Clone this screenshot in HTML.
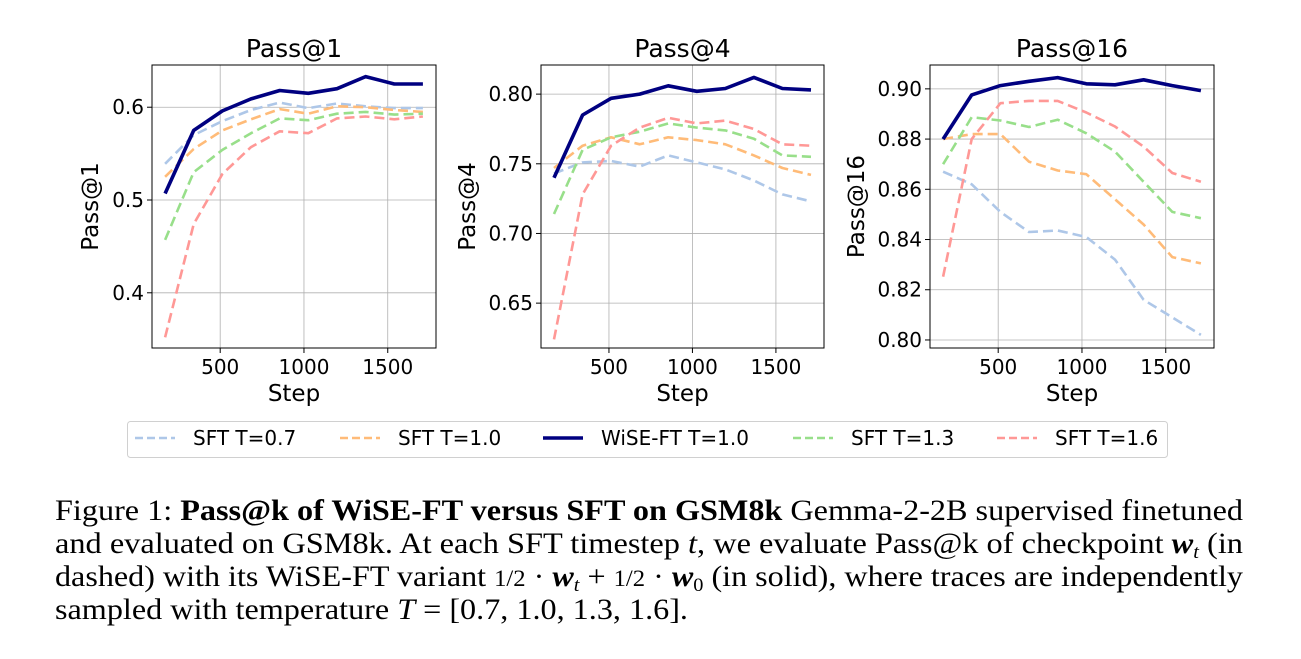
<!DOCTYPE html>
<html><head><meta charset="utf-8"><style>
html,body{margin:0;padding:0;background:#fff;width:1301px;height:659px;overflow:hidden}
svg{display:block}
</style></head><body>
<svg id="fig" width="1301" height="659" viewBox="0 0 1301 659" xmlns="http://www.w3.org/2000/svg">
<g id="charts"></g>
<g id="legend"></g>
<g font-family="'Liberation Serif', serif" font-size="30" fill="#000">
<text x="55" y="520" textLength="1188" lengthAdjust="spacingAndGlyphs">Figure 1: <tspan font-weight="bold">Pass@k of WiSE-FT versus SFT on GSM8k</tspan> Gemma-2-2B supervised finetuned</text>
<text x="55" y="553" textLength="1188" lengthAdjust="spacingAndGlyphs">and evaluated on GSM8k. At each SFT timestep <tspan font-style="italic">t</tspan>, we evaluate Pass@k of checkpoint <tspan font-weight="bold" font-style="italic">w</tspan><tspan font-style="italic" font-size="19" dy="5">t</tspan><tspan dy="-5"> (in</tspan></text>
<text x="55" y="586" textLength="1188" lengthAdjust="spacingAndGlyphs">dashed) with its WiSE-FT variant <tspan font-size="23">1/2</tspan> · <tspan font-weight="bold" font-style="italic">w</tspan><tspan font-style="italic" font-size="19" dy="5">t</tspan><tspan dy="-5"> + </tspan><tspan font-size="23">1/2</tspan> · <tspan font-weight="bold" font-style="italic">w</tspan><tspan font-size="19" dy="5">0</tspan><tspan dy="-5"> (in solid), where traces are independently</tspan></text>
<text x="55" y="619" textLength="633" lengthAdjust="spacingAndGlyphs">sampled with temperature <tspan font-style="italic">T</tspan> = [0.7, 1.0, 1.3, 1.6].</text>
</g>
</svg>
<script>
const steps = [171, 342, 513, 684, 855, 1026, 1197, 1368, 1539, 1710];
const seriesNames = ["SFT T=0.7", "SFT T=1.0", "WiSE-FT T=1.0", "SFT T=1.3", "SFT T=1.6"];
const p1_t07 = [0.539, 0.570, 0.585, 0.597, 0.605, 0.599, 0.604, 0.601, 0.599, 0.599];
const p1_t10 = [0.525, 0.555, 0.575, 0.587, 0.598, 0.593, 0.601, 0.600, 0.597, 0.595];
const p1_wise = [0.507, 0.575, 0.596, 0.609, 0.618, 0.615, 0.620, 0.633, 0.625, 0.625];
const p1_t13 = [0.457, 0.530, 0.554, 0.572, 0.588, 0.586, 0.593, 0.595, 0.592, 0.593];
const p1_t16 = [0.352, 0.474, 0.528, 0.557, 0.574, 0.572, 0.588, 0.590, 0.587, 0.590];
const p4_t07 = [0.743, 0.751, 0.752, 0.748, 0.756, 0.751, 0.746, 0.738, 0.728, 0.723];
const p4_t10 = [0.747, 0.763, 0.769, 0.764, 0.769, 0.767, 0.764, 0.756, 0.747, 0.742];
const p4_wise = [0.740, 0.785, 0.797, 0.800, 0.806, 0.802, 0.804, 0.812, 0.804, 0.803];
const p4_t13 = [0.714, 0.760, 0.769, 0.773, 0.779, 0.776, 0.774, 0.768, 0.756, 0.755];
const p4_t16 = [0.624, 0.728, 0.763, 0.776, 0.783, 0.779, 0.781, 0.775, 0.764, 0.763];
const p16_t07 = [0.867, 0.862, 0.851, 0.843, 0.8436, 0.841, 0.832, 0.816, 0.809, 0.802];
const p16_t10 = [0.880, 0.882, 0.882, 0.871, 0.8675, 0.866, 0.856, 0.846, 0.833, 0.8305];
const p16_wise = [0.880, 0.8976, 0.9013, 0.903, 0.9045, 0.902, 0.9016, 0.9036, 0.9013, 0.8993];
const p16_t13 = [0.870, 0.8887, 0.8874, 0.8848, 0.8877, 0.8823, 0.875, 0.863, 0.851, 0.8485];
const p16_t16 = [0.8252, 0.880, 0.8943, 0.8952, 0.8952, 0.8906, 0.885, 0.877, 0.8665, 0.863];
const xTicks = [500, 1000, 1500];
const p1_yTicks = [0.4, 0.5, 0.6];
const p4_yTicks = [0.65, 0.70, 0.75, 0.80];
const p16_yTicks = [0.80, 0.82, 0.84, 0.86, 0.88, 0.90];

const NS = "http://www.w3.org/2000/svg";
const colors = ["#aec7e8", "#ffbb78", "#000080", "#98df8a", "#ff9896"];
const drawOrder = [0, 1, 3, 4, 2];
function mk(tag, attrs, parent) { const e = document.createElementNS(NS, tag); for (const k in attrs) e.setAttribute(k, attrs[k]); parent.appendChild(e); return e; }

const panels = [
  {title: "Pass@1", left: 152, right: 436, ymin: 0.3405, ymax: 0.6455, ticks: p1_yTicks, dec: 1, data: [p1_t07, p1_t10, p1_wise, p1_t13, p1_t16], slug: "pass1"},
  {title: "Pass@4", left: 541, right: 824, ymin: 0.6178, ymax: 0.8209, ticks: p4_yTicks, dec: 2, data: [p4_t07, p4_t10, p4_wise, p4_t13, p4_t16], slug: "pass4"},
  {title: "Pass@16", left: 930, right: 1214, ymin: 0.7968, ymax: 0.9095, ticks: p16_yTicks, dec: 2, data: [p16_t07, p16_t10, p16_wise, p16_t13, p16_t16], slug: "pass16"}
];
const plotTop = 65, plotBottom = 348;
const charts = document.getElementById("charts");
panels.forEach(p => {
  const g = mk("g", {}, charts);
  
  
  const xmin = 93, xmax = 1788;
  const xs = v => p.left + (v - xmin) / (xmax - xmin) * (p.right - p.left);
  const ys = v => plotBottom - (v - p.ymin) / (p.ymax - p.ymin) * (plotBottom - plotTop);
  const ff = "'DejaVu Sans', 'Liberation Sans', sans-serif";
  xTicks.forEach(t => {
    const x = xs(t);
    const gl = mk("line", {x1: x, x2: x, y1: plotTop, y2: plotBottom, stroke: "#b0b0b0", "stroke-width": 0.8}, g);
    
    
    mk("line", {x1: x, x2: x, y1: plotBottom, y2: plotBottom + 5, stroke: "#000", "stroke-width": 1}, g);
    const tl = mk("text", {x: x, y: plotBottom + 26, "text-anchor": "middle", "font-family": ff, "font-size": 20}, g);
    tl.textContent = t;
    
    
  });
  p.ticks.forEach(t => {
    const y = ys(t);
    const gl = mk("line", {x1: p.left, x2: p.right, y1: y, y2: y, stroke: "#b0b0b0", "stroke-width": 0.8}, g);
    
    
    mk("line", {x1: p.left - 5, x2: p.left, y1: y, y2: y, stroke: "#000", "stroke-width": 1}, g);
    const tl = mk("text", {x: p.left - 8, y: y + 7, "text-anchor": "end", "font-family": ff, "font-size": 20}, g);
    tl.textContent = t.toFixed(p.dec);
    
    
  });
  drawOrder.forEach(si => {
    const pts = steps.map((s, i) => xs(s).toFixed(1) + "," + ys(p.data[si][i]).toFixed(1)).join(" ");
    const isWise = si === 2;
    const ln = mk("polyline", {points: pts, fill: "none", stroke: colors[si], "stroke-width": isWise ? 3.6 : 2.6, "stroke-dasharray": isWise ? "none" : "10,5", "stroke-linejoin": "round"}, g);
    
    
  });
  const fr = mk("rect", {x: p.left, y: plotTop, width: p.right - p.left, height: plotBottom - plotTop, fill: "none", stroke: "#000", "stroke-width": 1}, g);
  
  
  const ti = mk("text", {x: (p.left + p.right) / 2, y: 57, "text-anchor": "middle", "font-family": ff, "font-size": 25}, g);
  ti.textContent = p.title;
  
  
  const xl = mk("text", {x: (p.left + p.right) / 2, y: 401, "text-anchor": "middle", "font-family": ff, "font-size": 23}, g);
  xl.textContent = "Step";
  
  
  const cy = (plotTop + plotBottom) / 2, cx = p.left - (p.dec === 1 ? 54 : 66);
  const yl = mk("text", {x: cx, y: cy, "text-anchor": "middle", "font-family": ff, "font-size": 23, transform: "rotate(-90 " + cx + " " + cy + ")"}, g);
  yl.textContent = p.title;
  
  
});

const leg = document.getElementById("legend");
const lb = mk("rect", {x: 127.5, y: 421.5, width: 1040, height: 36, rx: 3, fill: "#fff", stroke: "#d0d0d0", "stroke-width": 1}, leg);


const legX = [135, 340, 543, 793, 997];
seriesNames.forEach((n, i) => {
  const eg = mk("g", {}, leg);
  
  
  const isWise = i === 2;
  mk("line", {x1: legX[i], x2: legX[i] + 40, y1: 438, y2: 438, stroke: colors[i], "stroke-width": isWise ? 3.6 : 2.6, "stroke-dasharray": isWise ? "none" : "8,4"}, eg);
  const t = mk("text", {x: legX[i] + 58, y: 445, "font-family": "'DejaVu Sans', 'Liberation Sans', sans-serif", "font-size": 20}, eg);
  t.textContent = n;
});
</script>
</body></html>
